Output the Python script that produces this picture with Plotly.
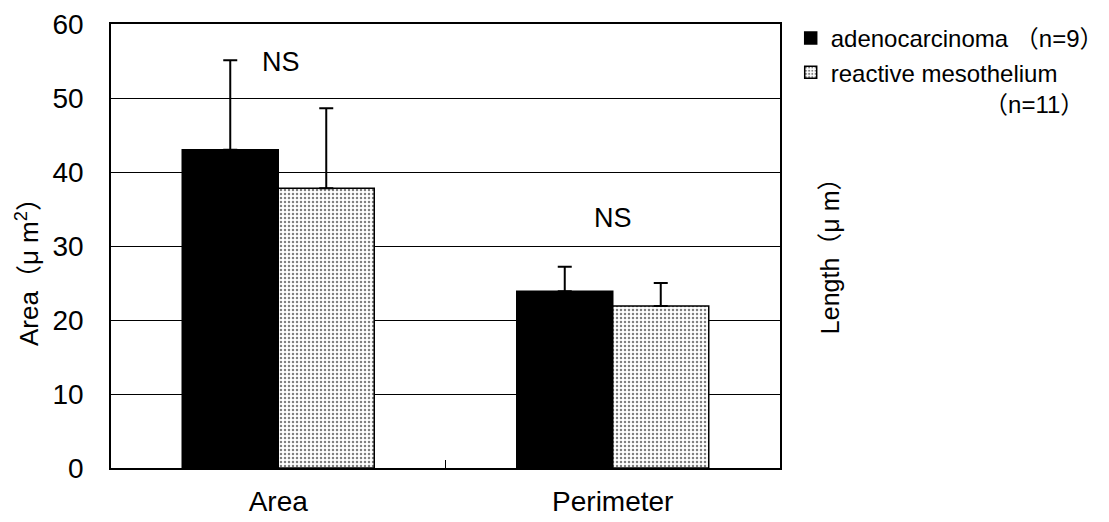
import plotly.graph_objects as go

categories = ["Area", "Perimeter"]
adeno_mean = [43.0, 23.9]
adeno_sd = [12.1, 3.3]
meso_mean = [37.8, 21.9]
meso_sd = [10.8, 3.1]
adeno_name = "adenocarcinoma\u00a0（n=9）"
meso_name = "reactive mesothelium<br>" + "\u00a0" * 23 + "（n=11）"
y_ticks = [0, 10, 20, 30, 40, 50, 60]
ns_labels = ["NS", "NS"]
ns_y = [54.9, 33.8]

FONT = "Liberation Sans, Noto Sans CJK JP, sans-serif"

fig = go.Figure()
fig.add_trace(go.Bar(
    x=categories, y=adeno_mean, name=adeno_name,
    marker=dict(color="black", line=dict(color="black", width=1.5)),
    error_y=dict(type="data", symmetric=False, array=adeno_sd, arrayminus=[0, 0],
                 color="black", thickness=2, width=7),
))
fig.add_trace(go.Bar(
    x=categories, y=meso_mean, name=meso_name,
    marker=dict(color="white",
                pattern=dict(shape=".", fgcolor="black", bgcolor="white", size=4, solidity=0.3),
                line=dict(color="black", width=1.5)),
    error_y=dict(type="data", symmetric=False, array=meso_sd, arrayminus=[0, 0],
                 color="black", thickness=2, width=7),
))

for cat, lab, yv, xs in zip(categories, ns_labels, ns_y, [3, 0]):
    fig.add_annotation(x=cat, y=yv, xref="x", yref="y", text=lab, showarrow=False,
                       xshift=xs, font=dict(size=27, color="black", family=FONT))

fig.add_annotation(xref="paper", yref="paper", x=-0.124, y=0.455,
                   text="Area（μ m<sup>2</sup>）", textangle=-90, showarrow=False,
                   xanchor="center", yanchor="middle",
                   font=dict(size=26, color="black", family=FONT))
fig.add_annotation(xref="paper", yref="paper", x=1.075, y=0.491,
                   text="Length（μ m）", textangle=-90, showarrow=False,
                   xanchor="center", yanchor="middle",
                   font=dict(size=25, color="black", family=FONT))

fig.update_layout(
    width=1109, height=522, autosize=False,
    margin=dict(l=111, r=329, t=24, b=54, autoexpand=False),
    paper_bgcolor="white", plot_bgcolor="white",
    barmode="group", bargap=0.426, bargroupgap=0,
    font=dict(family=FONT, color="black", size=24),
    showlegend=True,
    legend=dict(x=1.016, y=1.018, xanchor="left", yanchor="top", valign="top",
                font=dict(size=24, family=FONT, color="black"),
                bgcolor="rgba(0,0,0,0)", tracegroupgap=0),
    xaxis=dict(type="category", showline=True, linecolor="black", linewidth=1.5,
               mirror=True, ticks="inside", tickson="boundaries", ticklen=8,
               tickcolor="black", showgrid=False,
               tickfont=dict(size=28, family=FONT, color="black"),
               ticklabelstandoff=8),
    yaxis=dict(range=[0, 60], tickvals=y_ticks, showline=True, linecolor="black",
               linewidth=1.5, mirror=True, showgrid=True, gridcolor="black",
               gridwidth=1, zeroline=False, ticks="",
               tickfont=dict(size=28, family=FONT, color="black"),
               ticklabelstandoff=20),
)

fig.write_html("out.html")
